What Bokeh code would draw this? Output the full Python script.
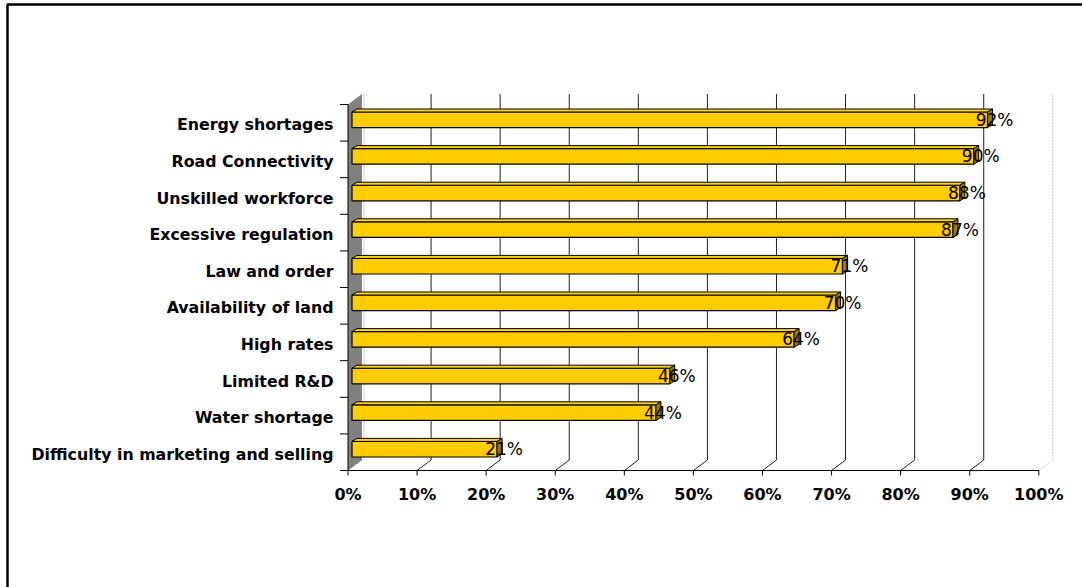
from bokeh.plotting import figure
from bokeh.models import Range1d, ColumnDataSource
from bokeh.core.properties import value
from bokeh.embed import file_html
from bokeh.resources import INLINE

# ---------------- data ----------------
categories = [
    "Energy shortages",
    "Road Connectivity",
    "Unskilled workforce",
    "Excessive regulation",
    "Law and order",
    "Availability of land",
    "High rates",
    "Limited R&D",
    "Water shortage",
    "Difficulty in marketing and selling",
]
values = [92, 90, 88, 87, 71, 70, 64, 46, 44, 21]
x_ticks = [0, 10, 20, 30, 40, 50, 60, 70, 80, 90, 100]
x_tick_labels = ["0%", "10%", "20%", "30%", "40%", "50%", "60%", "70%", "80%", "90%", "100%"]

# ---------------- layout constants (pixels) ----------------
W, H = 1082, 587
X0 = 347.5          # pixel of 0 %
PX_PER_PCT = 6.908  # pixels per percent
Y0 = 470.0          # pixel of category axis (front)
PX_PER_CAT = 36.6   # pixels per category


def sx(px):
    return (px - X0) / PX_PER_PCT


def sy(py):
    return (Y0 - py) / PX_PER_CAT


def dxp(px):
    return px / PX_PER_PCT


def dyp(py):
    return py / PX_PER_CAT


n = len(categories)
DX, DY = dxp(14), dyp(10.5)      # chart depth
BFX, BFY = dxp(4), dyp(3)        # bar front offset
BDX, BDY = dxp(5), dyp(3)        # bar depth
HH = dyp(7.8)                    # bar half height

p = figure(width=W, height=H,
           x_range=Range1d(sx(0), sx(W)), y_range=Range1d(sy(H), sy(0)),
           output_backend="svg", toolbar_location=None, min_border=0,
           x_axis_type=None, y_axis_type=None)
p.grid.visible = False
p.outline_line_color = None
p.background_fill_color = "white"
p.border_fill_color = "white"

# outer chart border (top + left visible)
p.line([sx(7), sx(7), sx(W + 20)], [sy(H + 20), sy(4), sy(4)], line_color="black", line_width=2.5)

# side wall
p.patch([0, DX, DX, 0], [0, DY, n + DY, n], fill_color="#808080", line_color=None)
p.line([DX + dxp(2), DX + dxp(2)], [DY, n + DY], line_color="#d0d0d0", line_width=1)

# back gridlines and floor diagonals
gx, gy, lx, ly = [], [], [], []
for t in x_ticks[1:]:
    if t == 100:
        lx.append([t + DX, t + DX]); ly.append([DY, n + DY])
        lx.append([t, t + DX]); ly.append([0, DY])
    else:
        gx.append([t + DX, t + DX]); gy.append([DY, n + DY])
        gx.append([t, t + DX]); gy.append([0, DY])
p.multi_line(gx, gy, line_color="#202020", line_width=1)
p.multi_line(lx, ly, line_color="#c8c8c8", line_width=1, line_dash="2 1")

# axes lines
p.line([0, 100], [0, 0], line_color="black", line_width=1)
p.line([0, 0], [0, n], line_color="black", line_width=1)
# x ticks
p.multi_line([[t, t] for t in x_ticks], [[0, sy(Y0 + 5)] for _ in x_ticks],
             line_color="black", line_width=1)
# y ticks
p.multi_line([[sx(X0 - 8), 0] for k in range(n + 1)], [[k, k] for k in range(n + 1)],
             line_color="black", line_width=1)

# bars
yc = [n - 0.5 - k for k in range(n)]
bottoms = [y - HH + BFY for y in yc]
tops = [y + HH + BFY for y in yc]
src = ColumnDataSource(dict(
    left=[BFX] * n,
    right=[v + BFX for v in values],
    bottom=bottoms,
    top=tops,
))
p.quad(left="left", right="right", bottom="bottom", top="top", source=src,
       fill_color="#FFCC00", line_color="black", line_width=1.2)

top_xs = [[BFX, v + BFX, v + BFX + BDX, BFX + BDX] for v in values]
top_ys = [[t, t, t + BDY, t + BDY] for t in tops]
p.patches(top_xs, top_ys, fill_color="#FFD21A", line_color="black", line_width=1)

end_xs = [[v + BFX, v + BFX + BDX, v + BFX + BDX, v + BFX] for v in values]
end_ys = [[b, b + BDY, t + BDY, t] for b, t in zip(bottoms, tops)]
p.patches(end_xs, end_ys, fill_color="#9C7C00", line_color="black", line_width=1)

# value labels
p.text(x=[v + dxp(11) for v in values], y=[y + BFY for y in yc],
       text=[f"{v}%" for v in values],
       text_font=value("DejaVu Sans"), text_font_size="17px",
       text_align="center", text_baseline="middle", text_color="black")

# category labels
p.text(x=[sx(333)] * n, y=[y - dyp(2) for y in yc], text=categories,
       text_font=value("DejaVu Sans"), text_font_style="bold", text_font_size="15.8px",
       text_align="right", text_baseline="middle", text_color="black")

# x tick labels
p.text(x=x_ticks, y=[sy(494)] * len(x_ticks), text=x_tick_labels,
       text_font=value("DejaVu Sans"), text_font_style="bold", text_font_size="16px",
       text_align="center", text_baseline="middle", text_color="black")

open("out.html", "w").write(file_html(p, INLINE))
